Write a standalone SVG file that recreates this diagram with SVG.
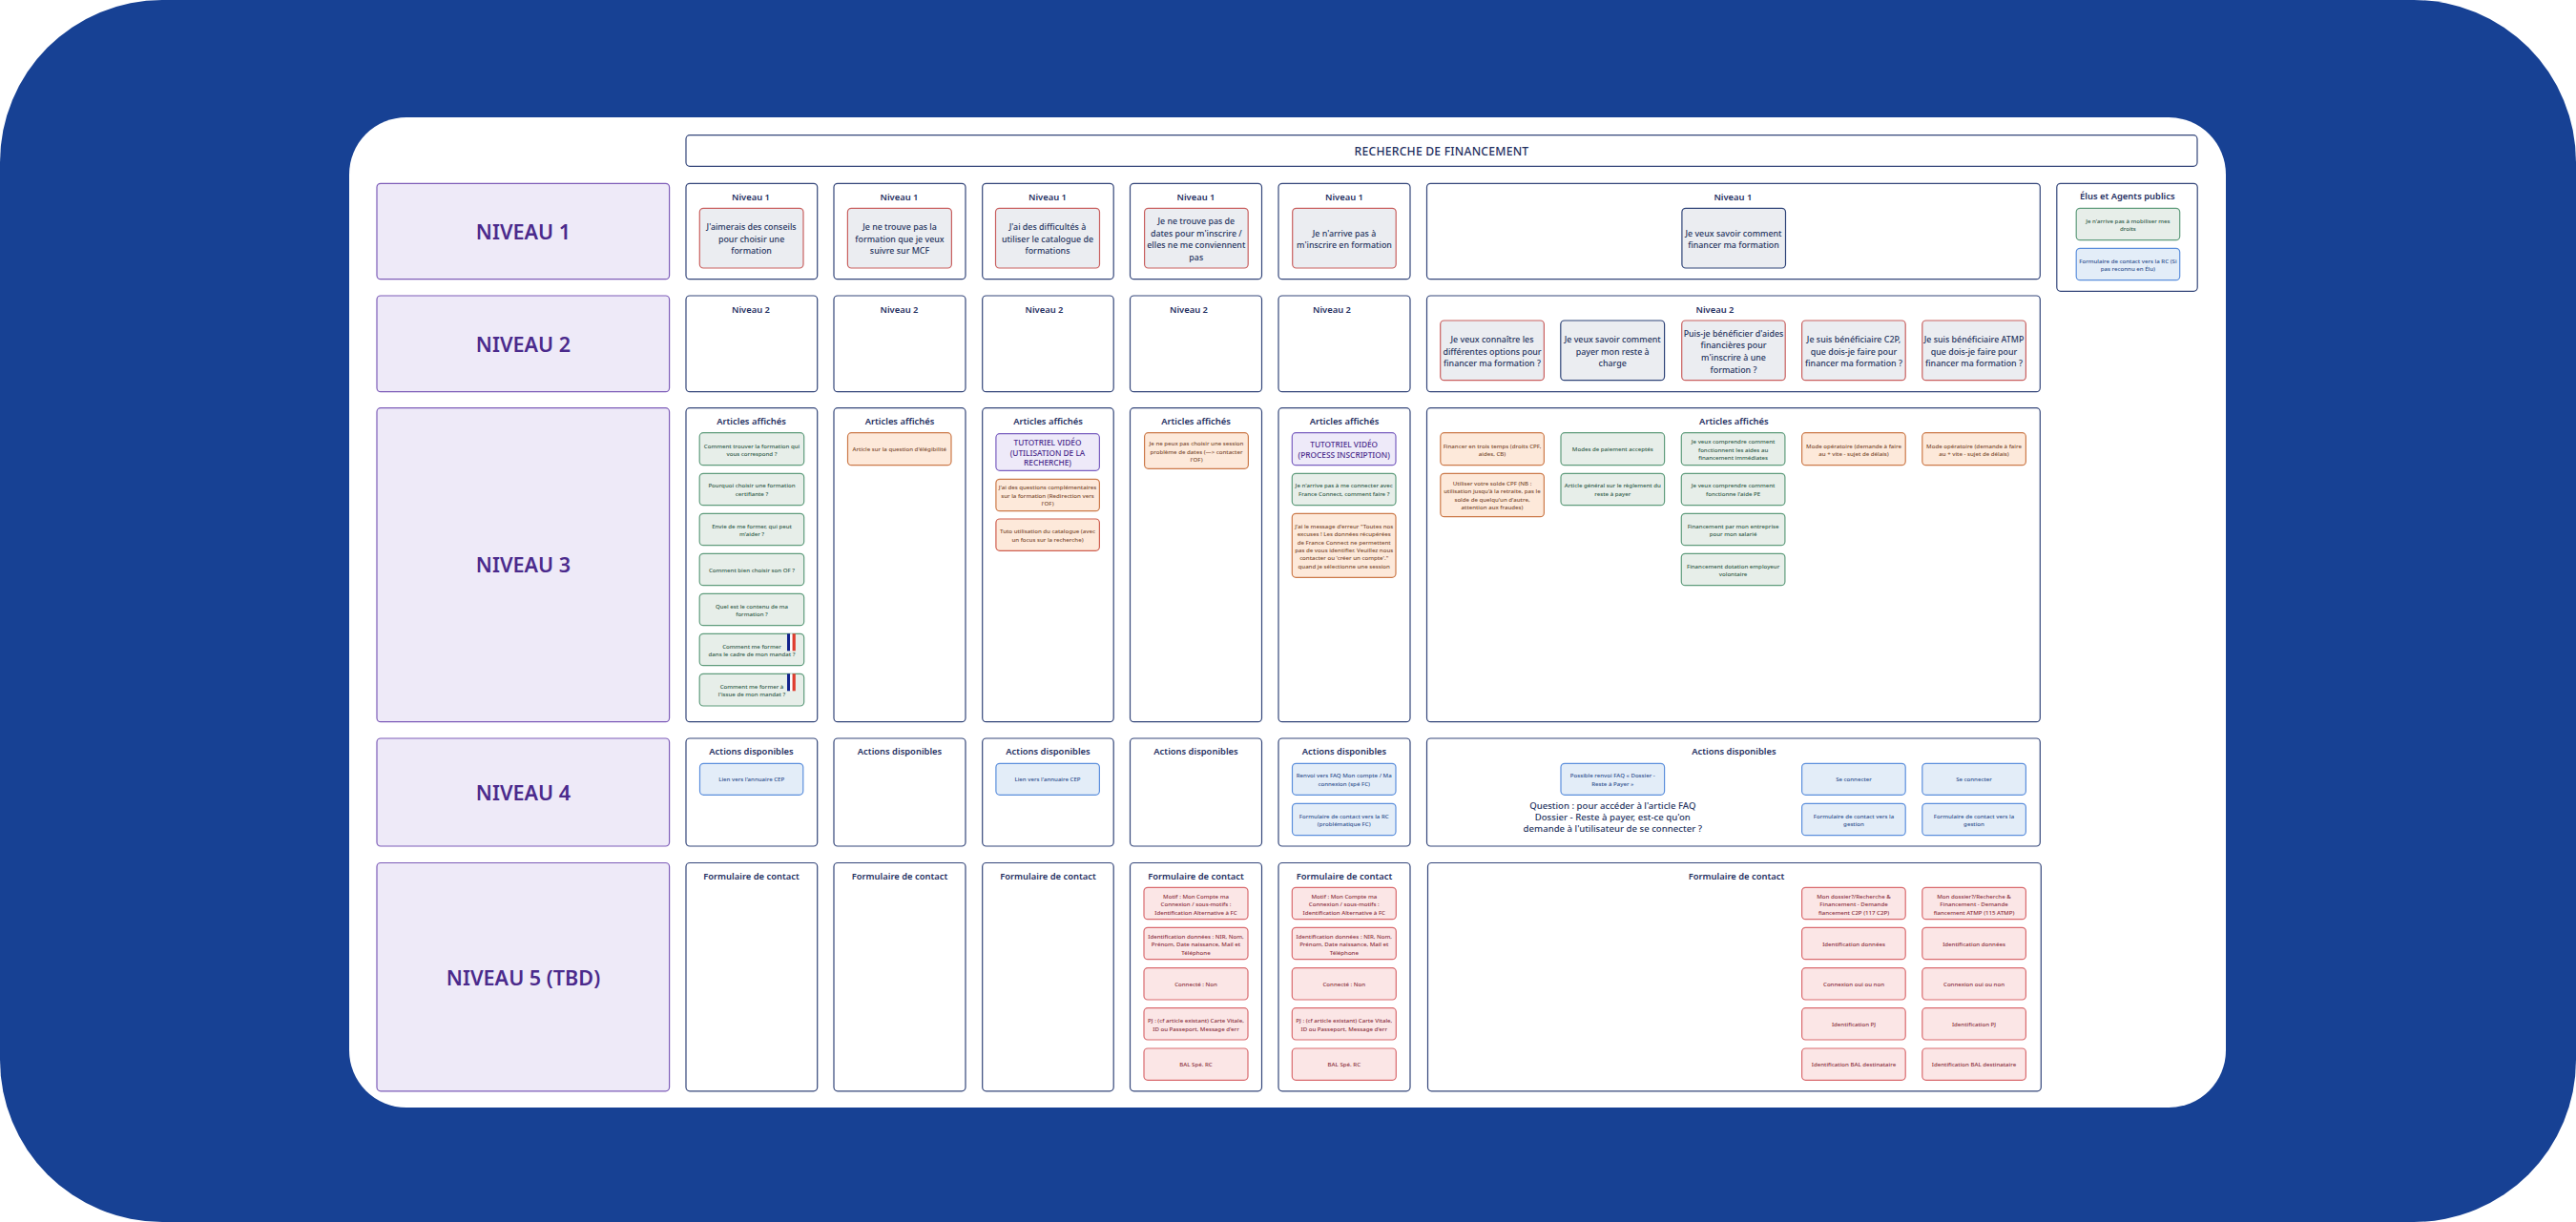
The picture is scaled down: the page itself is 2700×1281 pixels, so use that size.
<svg xmlns="http://www.w3.org/2000/svg" width="2700" height="1281" viewBox="0 0 2700 1281">
<style>
text{font-family:"Noto Sans","Open Sans","Liberation Sans",sans-serif;text-anchor:middle;dominant-baseline:central}
rect{stroke-width:1.2}
.box{fill:#fff;stroke:#34467a}
.lvl{fill:#eeeaf8;stroke:#7d5cb8}
.q{fill:#ebedf1;stroke:#c9605f}
.qb{fill:#ebedf1;stroke:#2f4478}
.g{fill:#e7eee9;stroke:#5f9c7c}
.o{fill:#fde9da;stroke:#cc7a4a}
.or{fill:#fde9da;stroke:#cf5f50}
.r{fill:#fbe6e6;stroke:#d96a6e}
.b{fill:#e3edf8;stroke:#5c8fdc}
.p{fill:#eeeaf9;stroke:#7a5fc0}
.h{font-size:9.4px;font-weight:600;fill:#1f2f5f}
.L{font-size:21.6px;font-weight:600;fill:#4b2a8c}
.T{font-size:12.2px;font-weight:500;letter-spacing:.2px;fill:#1f2f5f}
.m{font-size:8.9px;font-weight:500;fill:#27355f}
.Q{font-size:9.6px;font-weight:500;fill:#27355f}
.s{font-size:6.1px;font-weight:500}
.sg{fill:#2f5a48}.so{fill:#7a4a30}.sb{fill:#2e4f8e}.sr{fill:#8a3040}
.v{font-size:8.3px;font-weight:500;fill:#4b2a8c}
</style>
<defs><g id="flag"><rect width="3.2" height="18" fill="#12238c" style="stroke:none"/><rect x="3.2" width="2.4" height="18" fill="#fff" style="stroke:none"/><rect x="5.6" width="3.2" height="18" fill="#df3b2d" style="stroke:none"/></g></defs>
<rect id="bg" width="2700" height="1281" rx="170" fill="#174194" style="stroke:none"/>
<rect id="panel" x="366" y="123" width="1967" height="1038" rx="60" fill="#fff" style="stroke:none"/>
<g id="titre"><rect class="box" x="719" y="141.7" width="1584" height="32.6" rx="4"/><text class="T" x="1511" y="158.3">RECHERCHE DE FINANCEMENT</text></g>

<g id="niveau1"><rect class="lvl" x="395" y="192.3" width="306.6" height="100.4" rx="4"/><text class="L" x="548.5" y="242">NIVEAU 1</text></g>
<g id="niveau2"><rect class="lvl" x="395" y="310" width="306.6" height="100.7" rx="4"/><text class="L" x="548.5" y="360">NIVEAU 2</text></g>
<g id="niveau3"><rect class="lvl" x="395" y="427.7" width="306.6" height="329" rx="4"/><text class="L" x="548.5" y="591">NIVEAU 3</text></g>
<g id="niveau4"><rect class="lvl" x="395" y="774" width="306.6" height="113" rx="4"/><text class="L" x="548.5" y="830">NIVEAU 4</text></g>
<g id="niveau5"><rect class="lvl" x="395" y="904.5" width="306.6" height="239.3" rx="4"/><text class="L" x="548.5" y="1024">NIVEAU 5 (TBD)</text></g>

<g id="r1c1"><rect class="box" x="719" y="192.3" width="137.7" height="100.4" rx="4"/><text class="h" x="787" y="206">Niveau 1</text><rect class="q" x="733.3" y="218.3" width="108.7" height="62.7" rx="4"/><text class="m"><tspan x="787.6" y="237.3">J'aimerais des conseils</tspan><tspan x="787.6" y="250">pour choisir une</tspan><tspan x="787.6" y="262.3">formation</tspan></text></g>
<g id="r1c2"><rect class="box" x="874" y="192.3" width="138" height="100.4" rx="4"/><text class="h" x="942.5" y="206">Niveau 1</text><rect class="q" x="888.4" y="218.3" width="109" height="62.7" rx="4"/><text class="m"><tspan x="943" y="237.3">Je ne trouve pas la</tspan><tspan x="943" y="250">formation que je veux</tspan><tspan x="943" y="262.3">suivre sur MCF</tspan></text></g>
<g id="r1c3"><rect class="box" x="1029.7" y="192.3" width="137.5" height="100.4" rx="4"/><text class="h" x="1098" y="206">Niveau 1</text><rect class="q" x="1043.5" y="218.3" width="109" height="62.7" rx="4"/><text class="m"><tspan x="1098" y="237.3">J'ai des difficultés à</tspan><tspan x="1098" y="250">utiliser le catalogue de</tspan><tspan x="1098" y="262.3">formations</tspan></text></g>
<g id="r1c4"><rect class="box" x="1184.5" y="192.3" width="138" height="100.4" rx="4"/><text class="h" x="1253.5" y="206">Niveau 1</text><rect class="q" x="1199.6" y="218.3" width="108.6" height="62.7" rx="4"/><text class="m"><tspan x="1253.8" y="231">Je ne trouve pas de</tspan><tspan x="1253.8" y="243.7">dates pour m'inscrire /</tspan><tspan x="1253.8" y="256">elles ne me conviennent</tspan><tspan x="1253.8" y="269">pas</tspan></text></g>
<g id="r1c5"><rect class="box" x="1340" y="192.3" width="138" height="100.4" rx="4"/><text class="h" x="1409" y="206">Niveau 1</text><rect class="q" x="1354.7" y="218.3" width="108.5" height="62.7" rx="4"/><text class="m"><tspan x="1409" y="243.7">Je n'arrive pas à</tspan><tspan x="1409" y="256">m'inscrire en formation</tspan></text></g>
<g id="r1c6"><rect class="box" x="1495.5" y="192.3" width="642.8" height="100.4" rx="4"/><text class="h" x="1816.4" y="206">Niveau 1</text><rect class="qb" x="1762.9" y="218.3" width="108.6" height="62.7" rx="4"/><text class="m"><tspan x="1817" y="243.7">Je veux savoir comment</tspan><tspan x="1817" y="256">financer ma formation</tspan></text></g>
<g id="elus"><rect class="box" x="2155.8" y="192.3" width="147.4" height="113" rx="4"/><text class="h" x="2229.8" y="205.7">Élus et Agents publics</text><rect class="g" x="2176.2" y="218.3" width="108.5" height="33.4" rx="4"/><text class="s sg"><tspan x="2230.4" y="230.7">Je n'arrive pas à mobiliser mes</tspan><tspan x="2230.4" y="239">droits</tspan></text><rect class="b" x="2176.2" y="260.3" width="108.5" height="33.4" rx="4"/><text class="s sb"><tspan x="2230.4" y="272.7">Formulaire de contact vers la RC (Si</tspan><tspan x="2230.4" y="281.3">pas reconnu en Élu)</tspan></text></g>

<g id="r2c1"><rect class="box" x="719" y="310" width="137.7" height="100.7" rx="4"/><text class="h" x="787" y="324">Niveau 2</text></g>
<g id="r2c2"><rect class="box" x="874" y="310" width="138" height="100.7" rx="4"/><text class="h" x="942.5" y="324">Niveau 2</text></g>
<g id="r2c3"><rect class="box" x="1029.7" y="310" width="137.5" height="100.7" rx="4"/><text class="h" x="1094.5" y="324">Niveau 2</text></g>
<g id="r2c4"><rect class="box" x="1184.5" y="310" width="138" height="100.7" rx="4"/><text class="h" x="1246" y="324">Niveau 2</text></g>
<g id="r2c5"><rect class="box" x="1340" y="310" width="138" height="100.7" rx="4"/><text class="h" x="1396" y="324">Niveau 2</text></g>
<g id="r2c6"><rect class="box" x="1495.5" y="310" width="642.8" height="100.7" rx="4"/><text class="h" x="1797.5" y="324">Niveau 2</text>
<rect class="q" x="1509.7" y="336" width="108.7" height="62.7" rx="4"/><text class="m"><tspan x="1564" y="355">Je veux connaître les</tspan><tspan x="1564" y="367.7">différentes options pour</tspan><tspan x="1564" y="380.3">financer ma formation ?</tspan></text>
<rect class="qb" x="1635.8" y="336" width="108.8" height="62.7" rx="4"/><text class="m"><tspan x="1690.2" y="355">Je veux savoir comment</tspan><tspan x="1690.2" y="367.7">payer mon reste à</tspan><tspan x="1690.2" y="380.3">charge</tspan></text>
<rect class="q" x="1762.7" y="336" width="108.5" height="62.7" rx="4"/><text class="m"><tspan x="1817" y="348.7">Puis-je bénéficier d'aides</tspan><tspan x="1817" y="361.3">financières pour</tspan><tspan x="1817" y="374">m'inscrire à une</tspan><tspan x="1817" y="386.7">formation ?</tspan></text>
<rect class="q" x="1888.6" y="336" width="108.6" height="62.7" rx="4"/><text class="m"><tspan x="1943" y="355">Je suis bénéficiaire C2P,</tspan><tspan x="1943" y="367.7">que dois-je faire pour</tspan><tspan x="1943" y="380.3">financer ma formation ?</tspan></text>
<rect class="q" x="2014.8" y="336" width="108.6" height="62.7" rx="4"/><text class="m"><tspan x="2069" y="355">Je suis bénéficiaire ATMP</tspan><tspan x="2069" y="367.7">que dois-je faire pour</tspan><tspan x="2069" y="380.3">financer ma formation ?</tspan></text></g>

<g id="r3c1"><rect class="box" x="719" y="427.7" width="137.7" height="329" rx="4"/><text class="h" x="787.5" y="441.7">Articles affichés</text>
<rect class="g" x="733.2" y="453.7" width="109.5" height="34" rx="4"/><text class="s sg"><tspan x="788" y="466.5">Comment trouver la formation qui</tspan><tspan x="788" y="475">vous correspond ?</tspan></text>
<rect class="g" x="733.2" y="496.3" width="109.5" height="33.4" rx="4"/><text class="s sg"><tspan x="788" y="508.3">Pourquoi choisir une formation</tspan><tspan x="788" y="517">certifiante ?</tspan></text>
<rect class="g" x="733.2" y="538.3" width="109.5" height="33.4" rx="4"/><text class="s sg"><tspan x="788" y="550.7">Envie de me former, qui peut</tspan><tspan x="788" y="559.3">m'aider ?</tspan></text>
<rect class="g" x="733.2" y="580.3" width="109.5" height="33.4" rx="4"/><text class="s sg" x="788" y="597">Comment bien choisir son OF ?</text>
<rect class="g" x="733.2" y="622.3" width="109.5" height="33.4" rx="4"/><text class="s sg"><tspan x="788" y="634.7">Quel est le contenu de ma</tspan><tspan x="788" y="643.3">formation ?</tspan></text>
<rect class="g" x="733.2" y="664.3" width="109.5" height="33.4" rx="4"/><text class="s sg"><tspan x="788" y="676.7">Comment me former</tspan><tspan x="788" y="685.3">dans le cadre de mon mandat ?</tspan></text><use href="#flag" x="825" y="664.3"/>
<rect class="g" x="733.2" y="706.3" width="109.5" height="33.7" rx="4"/><text class="s sg"><tspan x="788" y="718.7">Comment me former à</tspan><tspan x="788" y="727.3">l'issue de mon mandat ?</tspan></text><use href="#flag" x="825" y="706.3"/></g>
<g id="r3c2"><rect class="box" x="874" y="427.7" width="138" height="329" rx="4"/><text class="h" x="943" y="441.7">Articles affichés</text><rect class="o" x="888.5" y="453.7" width="108.5" height="34" rx="4"/><text class="s so" x="942.8" y="470.7">Article sur la question d'élégibilité</text></g>
<g id="r3c3"><rect class="box" x="1029.7" y="427.7" width="137.5" height="329" rx="4"/><text class="h" x="1098.5" y="441.7">Articles affichés</text>
<rect class="p" x="1043.9" y="454.7" width="108.5" height="38.6" rx="4"/><text class="v"><tspan x="1098" y="463">TUTOTRIEL VIDÉO</tspan><tspan x="1098" y="473.7">(UTILISATION DE LA</tspan><tspan x="1098" y="484.3">RECHERCHE)</tspan></text>
<rect class="o" x="1043.9" y="502.3" width="108.5" height="33.4" rx="4"/><text class="s so"><tspan x="1098" y="510.3">J'ai des questions complémentaires</tspan><tspan x="1098" y="518.7">sur la formation (Redirection vers</tspan><tspan x="1098" y="527">l'OF)</tspan></text>
<rect class="or" x="1043.9" y="544" width="108.5" height="33.3" rx="4"/><text class="s so"><tspan x="1098" y="556.3">Tuto utilisation du catalogue (avec</tspan><tspan x="1098" y="564.7">un focus sur la recherche)</tspan></text></g>
<g id="r3c4"><rect class="box" x="1184.5" y="427.7" width="138" height="329" rx="4"/><text class="h" x="1253.5" y="441.7">Articles affichés</text><rect class="o" x="1199.6" y="453.7" width="108.8" height="37.6" rx="4"/><text class="s so"><tspan x="1254" y="464.3">Je ne peux pas choisir une session</tspan><tspan x="1254" y="472.7">problème de dates (—&gt; contacter</tspan><tspan x="1254" y="481">l'OF)</tspan></text></g>
<g id="r3c5"><rect class="box" x="1340" y="427.7" width="138" height="329" rx="4"/><text class="h" x="1409" y="441.7">Articles affichés</text>
<rect class="p" x="1354.3" y="453.7" width="108.7" height="34" rx="4"/><text class="v"><tspan x="1408.7" y="465.3">TUTOTRIEL VIDÉO</tspan><tspan x="1408.7" y="475.7">(PROCESS INSCRIPTION)</tspan></text>
<rect class="g" x="1354.3" y="496.3" width="108.7" height="33.4" rx="4"/><text class="s sg"><tspan x="1408.7" y="508.3">Je n'arrive pas à me connecter avec</tspan><tspan x="1408.7" y="516.7">France Connect, comment faire ?</tspan></text>
<rect class="o" x="1354.3" y="538.3" width="108.7" height="67" rx="4"/><text class="s so"><tspan x="1408.7" y="550.7">J'ai le message d'erreur "Toutes nos</tspan><tspan x="1408.7" y="559">excuses ! Les données récupérées</tspan><tspan x="1408.7" y="567.7">de France Connect ne permettent</tspan><tspan x="1408.7" y="576">pas de vous identifier. Veuillez nous</tspan><tspan x="1408.7" y="584.3">contacter ou 'créer un compte'."</tspan><tspan x="1408.7" y="592.7">quand je sélectionne une session</tspan></text></g>
<g id="r3c6"><rect class="box" x="1495.5" y="427.7" width="642.8" height="329" rx="4"/><text class="h" x="1817.4" y="441.7">Articles affichés</text>
<rect class="o" x="1509.8" y="453.7" width="108.6" height="34" rx="4"/><text class="s so"><tspan x="1564" y="466.5">Financer en trois temps (droits CPF,</tspan><tspan x="1564" y="475">aides, CB)</tspan></text>
<rect class="o" x="1509.8" y="496.3" width="108.6" height="45.4" rx="4"/><text class="s so"><tspan x="1564" y="506">Utiliser votre solde CPF (NB :</tspan><tspan x="1564" y="514.3">utilisation jusqu'à la retraite, pas le</tspan><tspan x="1564" y="523">solde de quelqu'un d'autre,</tspan><tspan x="1564" y="531.3">attention aux fraudes)</tspan></text>
<rect class="g" x="1636" y="453.7" width="108.6" height="34" rx="4"/><text class="s sg" x="1690.3" y="470.7">Modes de paiement acceptés</text>
<rect class="g" x="1636" y="496.3" width="108.6" height="33.4" rx="4"/><text class="s sg"><tspan x="1690.3" y="508.3">Article général sur le règlement du</tspan><tspan x="1690.3" y="517">reste à payer</tspan></text>
<rect class="g" x="1762.3" y="453.7" width="108.6" height="34" rx="4"/><text class="s sg"><tspan x="1816.6" y="462.3">Je veux comprendre comment</tspan><tspan x="1816.6" y="470.7">fonctionnent les aides au</tspan><tspan x="1816.6" y="479">financement immédiates</tspan></text>
<rect class="g" x="1762.3" y="496.3" width="108.6" height="33.4" rx="4"/><text class="s sg"><tspan x="1816.6" y="508.3">Je veux comprendre comment</tspan><tspan x="1816.6" y="517">fonctionne l'aide PE</tspan></text>
<rect class="g" x="1762.3" y="538.3" width="108.6" height="33.4" rx="4"/><text class="s sg"><tspan x="1816.6" y="550.7">Financement par mon entreprise</tspan><tspan x="1816.6" y="559.3">pour mon salarié</tspan></text>
<rect class="g" x="1762.3" y="580.3" width="108.6" height="33.4" rx="4"/><text class="s sg"><tspan x="1816.6" y="592.7">Financement dotation employeur</tspan><tspan x="1816.6" y="601.3">volontaire</tspan></text>
<rect class="o" x="1888.6" y="453.7" width="108.6" height="34" rx="4"/><text class="s so"><tspan x="1943" y="466.5">Mode opératoire (demande à faire</tspan><tspan x="1943" y="475">au + vite - sujet de délais)</tspan></text>
<rect class="o" x="2014.8" y="453.7" width="108.6" height="34" rx="4"/><text class="s so"><tspan x="2069" y="466.5">Mode opératoire (demande à faire</tspan><tspan x="2069" y="475">au + vite - sujet de délais)</tspan></text></g>

<g id="r4c1"><rect class="box" x="719" y="774" width="137.7" height="113" rx="4"/><text class="h" x="787.5" y="787.7">Actions disponibles</text><rect class="b" x="733.5" y="800.3" width="108.3" height="33" rx="4"/><text class="s sb" x="787.7" y="816.7">Lien vers l'annuaire CEP</text></g>
<g id="r4c2"><rect class="box" x="874" y="774" width="138" height="113" rx="4"/><text class="h" x="943" y="787.7">Actions disponibles</text></g>
<g id="r4c3"><rect class="box" x="1029.7" y="774" width="137.5" height="113" rx="4"/><text class="h" x="1098.5" y="787.7">Actions disponibles</text><rect class="b" x="1043.9" y="800.3" width="108.5" height="33" rx="4"/><text class="s sb" x="1098" y="816.7">Lien vers l'annuaire CEP</text></g>
<g id="r4c4"><rect class="box" x="1184.5" y="774" width="138" height="113" rx="4"/><text class="h" x="1253.5" y="787.7">Actions disponibles</text></g>
<g id="r4c5"><rect class="box" x="1340" y="774" width="138" height="113" rx="4"/><text class="h" x="1409" y="787.7">Actions disponibles</text>
<rect class="b" x="1354.5" y="800.3" width="108.5" height="33" rx="4"/><text class="s sb"><tspan x="1408.7" y="812.3">Renvoi vers FAQ Mon compte / Ma</tspan><tspan x="1408.7" y="821">connexion (spé FC)</tspan></text>
<rect class="b" x="1354.5" y="842.3" width="108.5" height="33.4" rx="4"/><text class="s sb"><tspan x="1408.7" y="854.7">Formulaire de contact vers la RC</tspan><tspan x="1408.7" y="863.3">(problématique FC)</tspan></text></g>
<g id="r4c6"><rect class="box" x="1495.5" y="774" width="642.8" height="113" rx="4"/><text class="h" x="1817.4" y="787.7">Actions disponibles</text>
<rect class="b" x="1636" y="800.3" width="108.6" height="33" rx="4"/><text class="s sb"><tspan x="1690.3" y="812.3">Possible renvoi FAQ « Dossier -</tspan><tspan x="1690.3" y="821">Reste à Payer »</tspan></text>
<text class="Q"><tspan x="1690.3" y="844">Question : pour accéder à l'article FAQ</tspan><tspan x="1690.3" y="856">Dossier - Reste à payer, est-ce qu'on</tspan><tspan x="1690.3" y="868">demande à l'utilisateur de se connecter ?</tspan></text>
<rect class="b" x="1888.6" y="800.3" width="108.6" height="33" rx="4"/><text class="s sb" x="1943" y="816.7">Se connecter</text>
<rect class="b" x="1888.6" y="842.3" width="108.6" height="33.4" rx="4"/><text class="s sb"><tspan x="1943" y="854.7">Formulaire de contact vers la</tspan><tspan x="1943" y="863.3">gestion</tspan></text>
<rect class="b" x="2014.8" y="800.3" width="108.6" height="33" rx="4"/><text class="s sb" x="2069" y="816.7">Se connecter</text>
<rect class="b" x="2014.8" y="842.3" width="108.6" height="33.4" rx="4"/><text class="s sb"><tspan x="2069" y="854.7">Formulaire de contact vers la</tspan><tspan x="2069" y="863.3">gestion</tspan></text></g>

<g id="r5c1"><rect class="box" x="719" y="904.5" width="137.7" height="239.3" rx="4"/><text class="h" x="787.5" y="918">Formulaire de contact</text></g>
<g id="r5c2"><rect class="box" x="874" y="904.5" width="138" height="239.3" rx="4"/><text class="h" x="943" y="918">Formulaire de contact</text></g>
<g id="r5c3"><rect class="box" x="1029.7" y="904.5" width="137.5" height="239.3" rx="4"/><text class="h" x="1098.5" y="918">Formulaire de contact</text></g>
<g id="r5c4"><rect class="box" x="1184.5" y="904.5" width="138" height="239.3" rx="4"/><text class="h" x="1253.5" y="918">Formulaire de contact</text>
<rect class="r" x="1199" y="930.3" width="109" height="33.4" rx="4"/><text class="s sr"><tspan x="1253.5" y="938.7">Motif : Mon Compte ma</tspan><tspan x="1253.5" y="947">Connexion / sous-motifs :</tspan><tspan x="1253.5" y="955.7">Identification Alternative à FC</tspan></text>
<rect class="r" x="1199" y="972.3" width="109" height="33.4" rx="4"/><text class="s sr"><tspan x="1253.5" y="980.7">Identification données : NIR, Nom,</tspan><tspan x="1253.5" y="989.3">Prénom, Date naissance, Mail et</tspan><tspan x="1253.5" y="997.7">Téléphone</tspan></text>
<rect class="r" x="1199" y="1014.7" width="109" height="33.3" rx="4"/><text class="s sr" x="1253.5" y="1031.3">Connecté : Non</text>
<rect class="r" x="1199" y="1056.7" width="109" height="33.3" rx="4"/><text class="s sr"><tspan x="1253.5" y="1069.3">PJ : (cf article existant) Carte Vitale,</tspan><tspan x="1253.5" y="1077.7">ID ou Passeport, Message d'err</tspan></text>
<rect class="r" x="1199" y="1099" width="109" height="33.3" rx="4"/><text class="s sr" x="1253.5" y="1115.7">BAL Spé. RC</text></g>
<g id="r5c5"><rect class="box" x="1340" y="904.5" width="138" height="239.3" rx="4"/><text class="h" x="1409" y="918">Formulaire de contact</text>
<rect class="r" x="1354.3" y="930.3" width="109" height="33.4" rx="4"/><text class="s sr"><tspan x="1408.8" y="938.7">Motif : Mon Compte ma</tspan><tspan x="1408.8" y="947">Connexion / sous-motifs :</tspan><tspan x="1408.8" y="955.7">Identification Alternative à FC</tspan></text>
<rect class="r" x="1354.3" y="972.3" width="109" height="33.4" rx="4"/><text class="s sr"><tspan x="1408.8" y="980.7">Identification données : NIR, Nom,</tspan><tspan x="1408.8" y="989.3">Prénom, Date naissance, Mail et</tspan><tspan x="1408.8" y="997.7">Téléphone</tspan></text>
<rect class="r" x="1354.3" y="1014.7" width="109" height="33.3" rx="4"/><text class="s sr" x="1408.8" y="1031.3">Connecté : Non</text>
<rect class="r" x="1354.3" y="1056.7" width="109" height="33.3" rx="4"/><text class="s sr"><tspan x="1408.8" y="1069.3">PJ : (cf article existant) Carte Vitale,</tspan><tspan x="1408.8" y="1077.7">ID ou Passeport, Message d'err</tspan></text>
<rect class="r" x="1354.3" y="1099" width="109" height="33.3" rx="4"/><text class="s sr" x="1408.8" y="1115.7">BAL Spé. RC</text></g>
<g id="r5c6"><rect class="box" x="1496.5" y="904.5" width="642.8" height="239.3" rx="4"/><text class="h" x="1820" y="918">Formulaire de contact</text>
<rect class="r" x="1888.6" y="930.3" width="108.6" height="33.4" rx="4"/><text class="s sr"><tspan x="1943" y="938.7">Mon dossier?/Recherche &amp;</tspan><tspan x="1943" y="947">Financement - Demande</tspan><tspan x="1943" y="955.7">fiancement C2P (117 C2P)</tspan></text>
<rect class="r" x="1888.6" y="972.3" width="108.6" height="33.4" rx="4"/><text class="s sr" x="1943" y="989">Identification données</text>
<rect class="r" x="1888.6" y="1014.7" width="108.6" height="33.3" rx="4"/><text class="s sr" x="1943" y="1031.3">Connexion oui ou non</text>
<rect class="r" x="1888.6" y="1056.7" width="108.6" height="33.3" rx="4"/><text class="s sr" x="1943" y="1073.3">Identification PJ</text>
<rect class="r" x="1888.6" y="1099" width="108.6" height="33.3" rx="4"/><text class="s sr" x="1943" y="1115.7">Identification BAL destinataire</text>
<rect class="r" x="2014.8" y="930.3" width="108.6" height="33.4" rx="4"/><text class="s sr"><tspan x="2069" y="938.7">Mon dossier?/Recherche &amp;</tspan><tspan x="2069" y="947">Financement - Demande</tspan><tspan x="2069" y="955.7">fiancement ATMP (115 ATMP)</tspan></text>
<rect class="r" x="2014.8" y="972.3" width="108.6" height="33.4" rx="4"/><text class="s sr" x="2069" y="989">Identification données</text>
<rect class="r" x="2014.8" y="1014.7" width="108.6" height="33.3" rx="4"/><text class="s sr" x="2069" y="1031.3">Connexion oui ou non</text>
<rect class="r" x="2014.8" y="1056.7" width="108.6" height="33.3" rx="4"/><text class="s sr" x="2069" y="1073.3">Identification PJ</text>
<rect class="r" x="2014.8" y="1099" width="108.6" height="33.3" rx="4"/><text class="s sr" x="2069" y="1115.7">Identification BAL destinataire</text></g>
</svg>
